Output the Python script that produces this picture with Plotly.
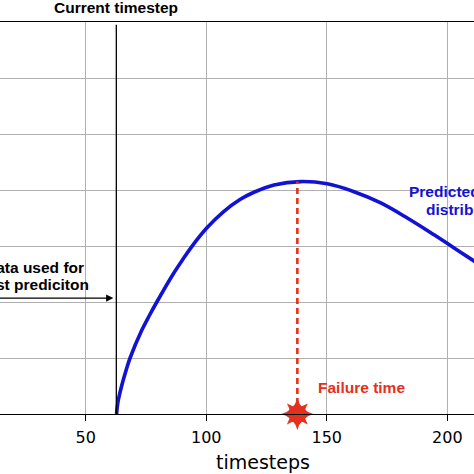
import plotly.graph_objects as go

# values
timesteps = [62.8, 63.4, 64.9, 66.6, 68.4, 73.2, 76.3, 79.5, 86.3, 90.2, 94.0, 100.2,
             107.1, 114.0, 119.8, 128.1, 139.2, 150.2, 161.3, 172.4, 183.4, 194.5,
             205.5, 211.5]
density = [0, 0.22, 0.50, 0.76, 1.00, 1.49, 1.75, 2.00, 2.50, 2.755, 2.99, 3.32,
           3.61, 3.83, 3.96, 4.09, 4.15, 4.11, 3.97, 3.77, 3.50, 3.20,
           2.89, 2.72]

current_step = 62.7
failure_step = 137.8
failure_peak = 4.15
x_ticks = [50, 100, 150, 200]

blue = "#1212d4"
red = "#e4301c"
bold_font = "Liberation Sans"

fig = go.Figure()

# predicted distribution
fig.add_trace(go.Scatter(
    x=timesteps, y=density, mode="lines",
    line=dict(color=blue, width=3.6, shape="spline", smoothing=1.0),
))

# failure time marker (dashed line + star at the base)
fig.add_trace(go.Scatter(
    x=[failure_step, failure_step], y=[0, failure_peak], mode="lines",
    line=dict(color=red, width=2.6, dash="6px,4px"),
))
fig.add_trace(go.Scatter(
    x=[failure_step, failure_step], y=[0, 0], mode="markers",
    marker=dict(symbol=["star-diamond", "star-square"], size=[23, 19], color=red,
                opacity=1, line=dict(width=0)),
    cliponaxis=False,
))

# current timestep line
fig.add_shape(type="line", x0=current_step, x1=current_step, y0=0, y1=6.95,
              xref="x", yref="y", line=dict(color="black", width=1.3))

# arrow: data used for last prediction
fig.add_annotation(x=61.45, y=2.07, ax=0, ay=2.07, axref="x", ayref="y",
                   xref="x", yref="y", text="", showarrow=True,
                   arrowhead=2, arrowsize=1.2, arrowwidth=1.2, arrowcolor="black")

annots = [
    dict(x=50.1, y=2.625, text="Data used for", xanchor="right", color="black"),
    dict(x=52.4, y=2.32, text="last prediciton", xanchor="right", color="black"),
    dict(x=145.7, y=0.467, text="Failure time", xanchor="left", color=red),
    dict(x=183.3, y=3.97, text="Predicted", xanchor="left", color=blue),
    dict(x=190.3, y=3.66, text="distribution", xanchor="left", color=blue),
]
for a in annots:
    fig.add_annotation(x=a["x"], y=a["y"], text="<b>" + a["text"] + "</b>",
                       xanchor=a["xanchor"], yanchor="middle", showarrow=False,
                       font=dict(family=bold_font, size=15.5, color=a["color"]))

# title over the current timestep line
fig.add_annotation(x=current_step, y=1, xref="x", yref="paper", yanchor="middle",
                   yshift=15, text="<b>Current timestep</b>", showarrow=False,
                   font=dict(family=bold_font, size=15.5, color="black"))

# x axis title (centre of the original, uncropped axis)
fig.add_annotation(x=123.7, y=0, xref="x", yref="paper", yanchor="middle",
                   yshift=-48, text="timesteps", showarrow=False,
                   font=dict(family="DejaVu Sans", size=19, color="black"))

fig.update_layout(
    width=474, height=474,
    margin=dict(l=0, r=0, t=22, b=60),
    plot_bgcolor="white", paper_bgcolor="white",
    showlegend=False,
    xaxis=dict(
        range=[14.45, 211.07], tickvals=x_ticks,
        showgrid=True, gridcolor="#b0b0b0", gridwidth=1.2, zeroline=False,
        showline=True, linecolor="black", linewidth=1.4, mirror=True,
        ticks="outside", ticklen=5.5, tickwidth=1.2, tickcolor="black",
        ticklabelstandoff=3,
        tickfont=dict(family="DejaVu Sans", size=16, color="black"),
    ),
    yaxis=dict(
        range=[0, 7], dtick=1, showticklabels=False,
        showgrid=True, gridcolor="#b0b0b0", gridwidth=1.2, zeroline=False,
        showline=False, ticks="",
    ),
)

# the page body has an 8px default margin; drop it so the figure fills the window
fig.write_html("out.html", config={"displayModeBar": False},
               post_script="document.body.style.margin = '0px';")
